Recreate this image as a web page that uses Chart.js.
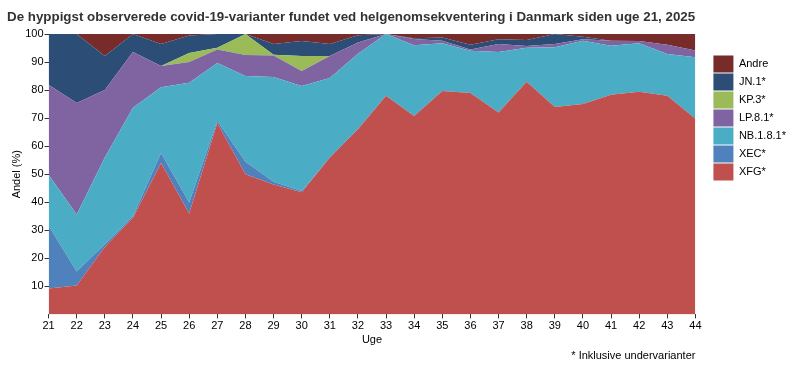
<!DOCTYPE html>
<html>
<head>
<meta charset="utf-8">
<script src="https://cdn.jsdelivr.net/npm/chart.js@4"></script>
<style>
  body { margin: 0; background: #fff; }
  #wrap { width: 800px; height: 375px; }
</style>
</head>
<body>
<div id="wrap"><canvas id="myChart"></canvas></div>
<script>
//weeks on the x axis
let weeks = ['21', '22', '23', '24', '25', '26', '27', '28', '29', '30', '31', '32',
	'33', '34', '35', '36', '37', '38', '39', '40', '41', '42', '43', '44']

//share in % per variant
let xfg = [9.2, 10.3, 24, 34.5, 54, 36, 68.3, 50, 46.3, 43.6, 56, 66, 78, 70.8, 79.7, 79, 72, 83, 74, 75, 78.3, 79.4, 78, 69.8]
let xec = [22.5, 5, 1, 0.5, 3.6, 3.9, 0.8, 4.4, 1, 0.4, 0, 0, 0, 0, 0, 0, 0, 0, 0, 0, 0, 0, 0, 0]
let nb181 = [18.1, 20.3, 31, 38.7, 23.4, 42.7, 20.6, 30.6, 37.4, 37.5, 28.3, 27, 22, 25.2, 17, 15, 21.6, 12.1, 21.3, 22.6, 17.5, 17.3, 14.9, 21.9]
let lp81 = [32.1, 39.8, 24, 19.9, 7.6, 7.4, 4.8, 7.5, 7.6, 5.3, 7.9, 4, 0, 2.2, 0.9, 0.5, 2.8, 0.6, 1.1, 0.5, 1.8, 0.8, 3.3, 2.4]
let kp3 = [0, 0, 0, 0, 0, 3.2, 0.6, 7.5, 0.3, 5.4, 0, 0, 0, 0, 0, 0, 0, 0, 0, 0, 0, 0, 0, 0]
let jn1 = [18.1, 24.6, 12.2, 6.4, 7.8, 6.3, 4.9, 0, 3.8, 5.3, 4.2, 2.6, 0, 0.3, 1.2, 1.7, 1.7, 2.2, 3.6, 0.9, 0, 0, 0, 0]
let andre = [0, 0, 7.8, 0, 3.6, 0.5, 0, 0, 3.6, 2.5, 3.6, 0.4, 0, 1.5, 1.2, 3.8, 1.9, 2.1, 0, 1, 2.4, 2.5, 3.8, 5.9]

let yTicks = [10, 20, 30, 40, 50, 60, 70, 80, 90, 100]

let fontFamily = "'Liberation Sans', Arial, sans-serif"
let textColor = '#333'
let legendGap = 17 //empty space between plot and legend boxes

//one area per variant, bottom first
function area(label, data, color, fill) {
	return {
		label: label,
		data: data,
		backgroundColor: color,
		borderColor: color,
		borderWidth: 0,
		pointRadius: 0,
		pointHoverRadius: 0,
		tension: 0,
		fill: fill
	}
}

let data = {
	labels: weeks,
	datasets: [
		area('XFG*', xfg, '#C0504D', 'origin'),
		area('XEC*', xec, '#4F81BD', '-1'),
		area('NB.1.8.1*', nb181, '#4BACC6', '-1'),
		area('LP.8.1*', lp81, '#8064A2', '-1'),
		area('KP.3*', kp3, '#9BBB59', '-1'),
		area('JN.1*', jn1, '#2C4D75', '-1'),
		area('Andre', andre, '#772C2A', '-1')
	]
}

//make the legend box wider and draw its items on the right part of it
let legendSpacer = {
	id: 'legendSpacer',
	afterInit(chart) {
		let legend = chart.legend
		if (!legend) return
		let fit = legend.fit
		legend.fit = function () {
			fit.call(this)
			this.width += legendGap
		}
		let draw = legend.draw
		legend.draw = function () {
			this.left += legendGap
			draw.call(this)
			this.left -= legendGap
		}
	}
}

let config = {
	type: 'line',
	data: data,
	plugins: [legendSpacer],
	options: {
		responsive: true,
		maintainAspectRatio: false,
		animation: false,
		layout: { padding: { left: 7, right: 4, top: 4, bottom: 12 } },
		plugins: {
			title: {
				display: true,
				text: 'De hyppigst observerede covid-19-varianter fundet ved helgenomsekventering i Danmark siden uge 21, 2025',
				align: 'start',
				color: textColor,
				font: { family: fontFamily, size: 13.35, weight: 'bold' },
				padding: { top: 5, bottom: 9 }
			},
			subtitle: {
				display: true,
				position: 'bottom',
				align: 'end',
				fullSize: false,
				text: '* Inklusive undervarianter',
				color: '#000',
				font: { family: fontFamily, size: 11 },
				padding: { top: 3, bottom: 0 }
			},
			legend: {
				position: 'right',
				align: 'start',
				reverse: true,
				title: { display: true, text: ' ', padding: { top: 28, bottom: 8 }, font: { size: 12 } },
				labels: {
					boxWidth: 20,
					boxHeight: 17,
					padding: 1,
					color: '#000',
					font: { family: fontFamily, size: 11 }
				}
			},
			tooltip: { enabled: false }
		},
		scales: {
			x: {
				offset: false,
				grid: { drawOnChartArea: false, drawTicks: true, tickLength: 4, color: textColor },
				border: { display: false },
				ticks: { color: '#000', font: { family: fontFamily, size: 11 }, padding: 1, maxRotation: 0, autoSkip: false },
				title: { display: true, text: 'Uge', color: '#000', font: { family: fontFamily, size: 11 }, padding: 0 }
			},
			y: {
				stacked: true,
				min: 0,
				max: 100,
				afterBuildTicks: (axis) => {
					axis.ticks = yTicks.map((v) => ({ value: v }))
				},
				grid: { drawOnChartArea: false, drawTicks: true, tickLength: 4, color: textColor },
				border: { display: false },
				ticks: { color: '#000', font: { family: fontFamily, size: 11 }, padding: 1 },
				title: { display: true, text: 'Andel (%)', color: '#000', font: { family: fontFamily, size: 11 }, padding: { top: 3, bottom: 1 } }
			}
		}
	}
}

let chart = new Chart(document.getElementById('myChart').getContext('2d'), config)
</script>
</body>
</html>
